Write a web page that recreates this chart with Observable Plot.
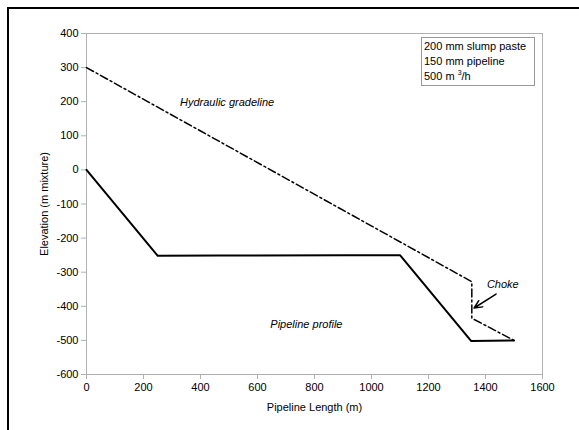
<!DOCTYPE html>
<html>
<head>
<meta charset="utf-8">
<script src="https://cdn.jsdelivr.net/npm/d3@7"></script>
<script src="https://cdn.jsdelivr.net/npm/@observablehq/plot@0.6"></script>
<style>
  html, body { margin: 0; padding: 0; background: #fff; }
  #wrap { position: relative; width: 579px; height: 430px; overflow: hidden; font-family: "Liberation Sans", Arial, sans-serif; }
  #border { position: absolute; left: 7px; top: 7px; width: 700px; height: 600px; border-left: 2px solid #000; border-top: 2px solid #000; }
  #note { position: absolute; left: 421px; top: 37px; width: 110px; height: 46px; border: 1px solid #999; background: #fff; font-size: 11px; line-height: 15px; padding: 1px 0 0 2px; color: #000; }
  #note sup { font-size: 7px; vertical-align: 5px; line-height: 0; }
  #chart { position: absolute; left: 0; top: 0; }
</style>
</head>
<body>
<div id="wrap">
  <div id="chart"></div>
  <div id="border"></div>
  <div id="note">200 mm slump paste<br>150 mm pipeline<br>500 m <sup>3</sup>/h</div>
</div>
<script>
// Pipeline profile (length m, elevation m)
const profileX = [0, 250, 460, 900, 1100, 1350, 1420, 1500];
const profileY = [0, -252, -251, -250, -250, -502, -501, -500];
// Hydraulic gradeline
const gradeX = [0, 1352, 1352, 1500];
const gradeY = [300, -328, -435, -500];
const xTicks = [0, 200, 400, 600, 800, 1000, 1200, 1400, 1600];
const yTicks = [400, 300, 200, 100, 0, -100, -200, -300, -400, -500, -600];

const profile = profileX.map((x, i) => ({x, y: profileY[i]}));
const grade = gradeX.map((x, i) => ({x, y: gradeY[i]}));

const labels = [
  {x: 328, y: 198, text: "Hydraulic gradeline"},
  {x: 645, y: -452, text: "Pipeline profile"},
  {x: 1405, y: -335, text: "Choke"}
];
const arrow = [{x1: 1437, y1: -364, x2: 1360, y2: -405}];
const fmt = d => String(d);

const plot = Plot.plot({
  width: 579,
  height: 430,
  marginLeft: 86,
  marginRight: 37,
  marginTop: 33,
  marginBottom: 56,
  style: {fontFamily: "'Liberation Sans', Arial, sans-serif", fontSize: "11px", color: "#000", background: "transparent"},
  x: {domain: [0, 1600]},
  y: {domain: [-600, 400]},
  marks: [
    Plot.frame({stroke: "#b0b0b0", strokeWidth: 1}),
    Plot.axisX({ticks: xTicks, tickFormat: fmt, tickSize: 5, stroke: "#b0b0b0", tickPadding: 4, fill: "#000", fontSize: 11, label: "Pipeline Length (m)", labelAnchor: "center", labelArrow: "none", labelOffset: 36}),
    Plot.axisY({ticks: yTicks, tickFormat: fmt, tickSize: 5, stroke: "#b0b0b0", tickPadding: 3, fill: "#000", fontSize: 11, label: "Elevation (m mixture)", labelAnchor: "center", labelArrow: "none", labelOffset: 46}),
    Plot.line(grade, {x: "x", y: "y", stroke: "#000", strokeWidth: 1.5, strokeDasharray: "8,3,2,3"}),
    Plot.line(profile, {x: "x", y: "y", stroke: "#000", strokeWidth: 2}),
    Plot.text(labels, {x: "x", y: "y", text: "text", textAnchor: "start", fontStyle: "italic", fontSize: 11, fill: "#000"}),
    Plot.arrow(arrow, {x1: "x1", y1: "y1", x2: "x2", y2: "y2", stroke: "#000", strokeWidth: 1.5, headLength: 9, headAngle: 50})
  ]
});
document.getElementById("chart").appendChild(plot);
</script>
</body>
</html>
